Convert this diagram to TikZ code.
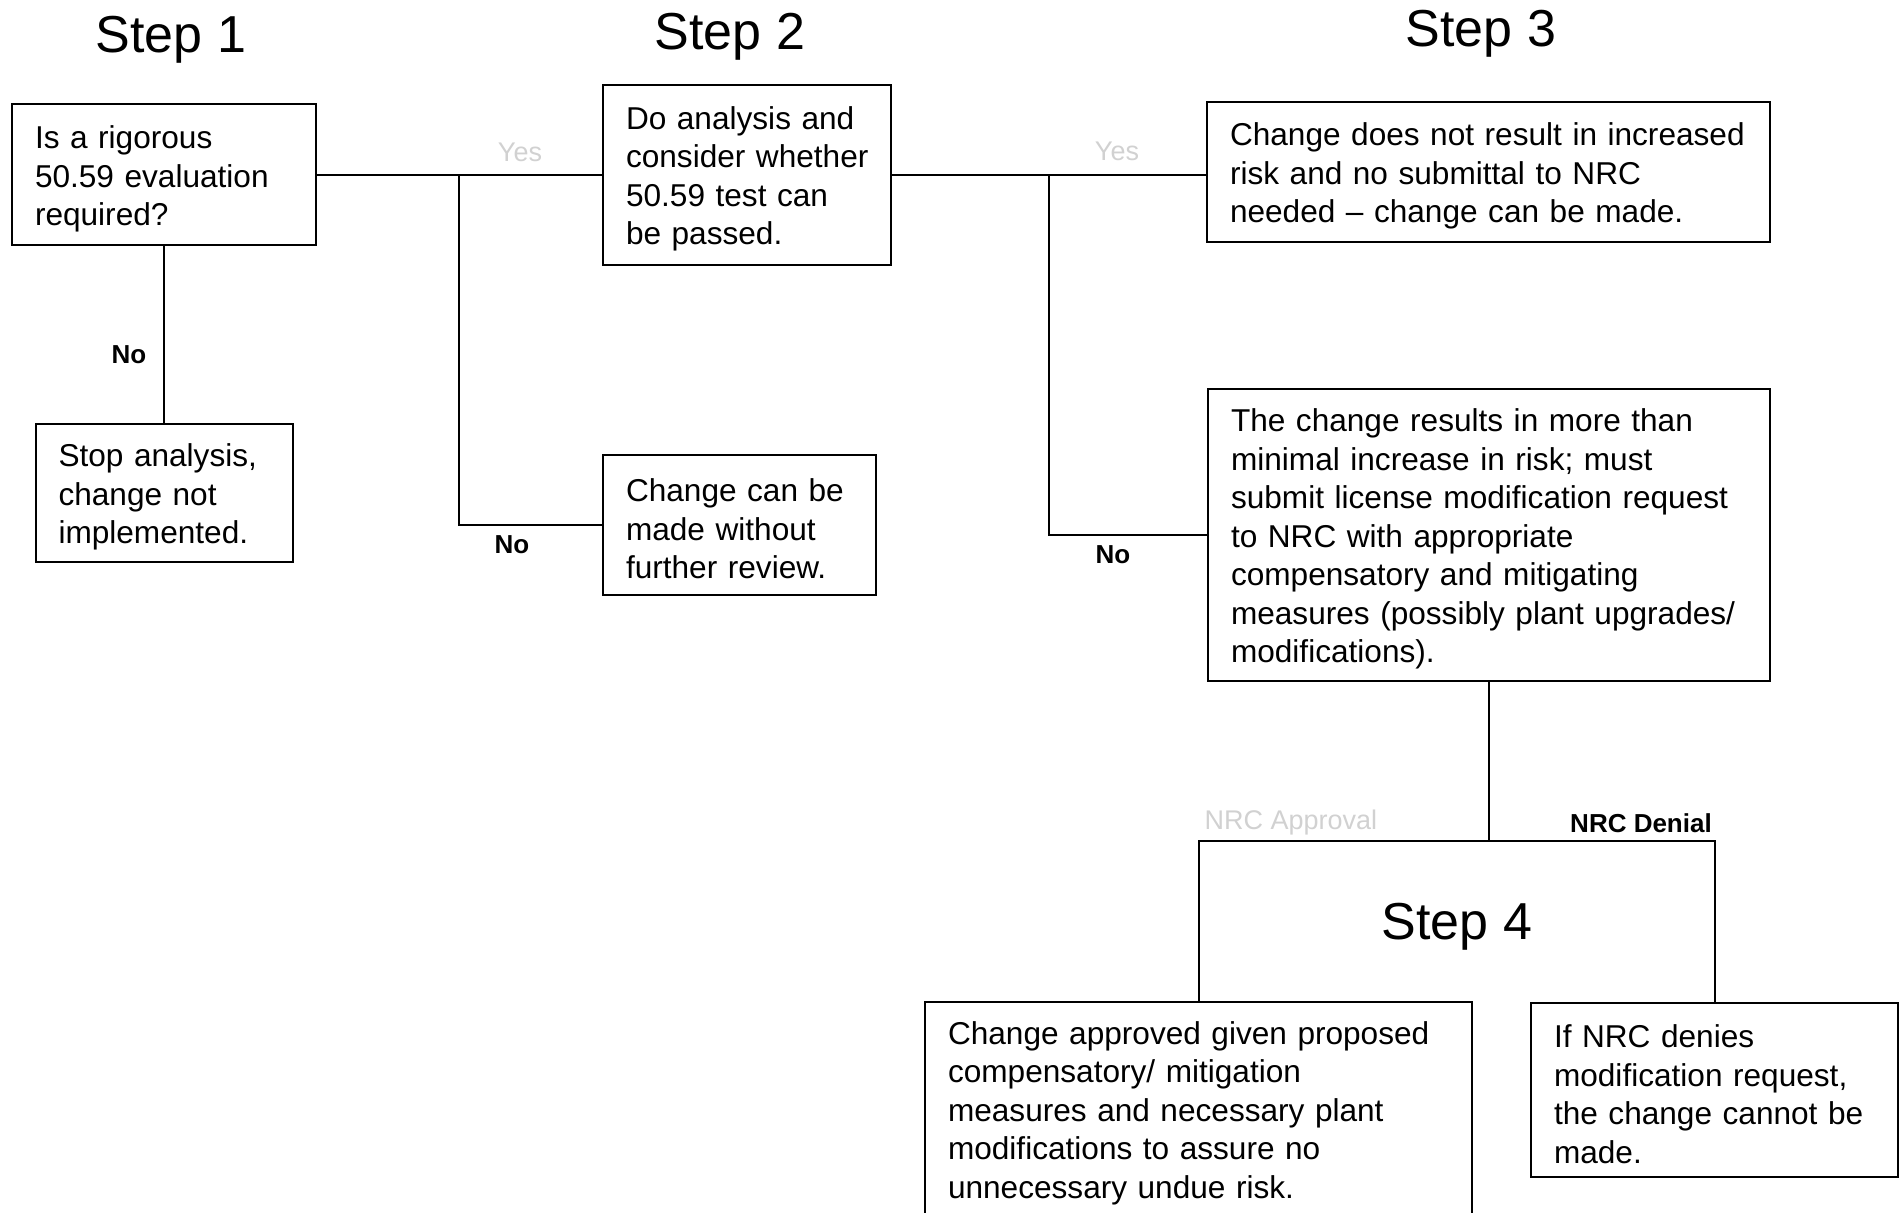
\documentclass[tikz,border=0pt]{standalone}
\usepackage{fontspec}
\setmainfont{Liberation Sans}
\begin{document}
\hyphenpenalty=10000
\exhyphenpenalty=10000
\begin{tikzpicture}[x=0.5pt,y=-0.5pt,
  box/.style={draw, line width=1pt, align=left, inner xsep=11.5pt, inner ysep=0pt, font=\fontsize{15.8}{19.25}\selectfont, execute at begin node={\rule{0pt}{15.5pt}}},
  conn/.style={line width=1pt},
  steplabel/.style={font=\fontsize{26}{30}\selectfont},
  nolabel/.style={font=\fontsize{13}{15}\selectfont\bfseries},
  faint/.style={font=\fontsize{13.5}{15}\selectfont, text=black!18}]
\useasboundingbox (0,0) rectangle (1904,1213);
% titles
\node[steplabel] (s1) at (171,40) {Step 1};
\node[steplabel] (s2) at (730,37) {Step 2};
\node[steplabel] (s3) at (1481,34) {Step 3};
\node[steplabel] (s4) at (1457,927) {Step 4};
% boxes
\node[box, text width=129pt, minimum height=70.5pt] (b1) at (164,175) {Is~a~rigorous\\50.59~evaluation\\required?};
\node[box, text width=105.5pt, minimum height=69pt] (stop) at (164,493) {Stop~analysis,\\change~not\\implemented.};
\node[box, text width=121pt, minimum height=90pt] (b2) at (747,175) {Do~analysis~and\\consider~whether\\50.59~test~can\\be~passed.};
\node[box, text width=113.5pt, minimum height=69.5pt] (b2n) at (739.5,525) {Change~can~be\\made~without\\further~review.};
\node[box, text width=258.5pt, minimum height=70pt] (b3) at (1488.5,172) {Change~does~not~result~in~increased\\risk~and~no~submittal~to~NRC\\needed~--~change~can~be~made.};
\node[box, text width=258pt, minimum height=146pt] (big) at (1489,535) {The~change~results~in~more~than\\minimal~increase~in~risk;~must\\submit~license~modification~request\\to~NRC~with~appropriate\\compensatory~and~mitigating\\measures~(possibly~plant~upgrades/\\modifications).};
\node[box, text width=250.5pt, minimum height=107pt] (appr) at (1198.5,1109) {Change~approved~given~proposed\\compensatory/~mitigation\\measures~and~necessary~plant\\modifications~to~assure~no\\unnecessary~undue~risk.};
\node[box, text width=160.5pt, minimum height=87pt] (den) at (1714.5,1090) {If~NRC~denies\\modification~request,\\the~change~cannot~be\\made.};
% connectors
\coordinate (j1) at (459,175);
\coordinate (j2) at (1049,175);
\coordinate (j3) at (1489,841);
\draw[conn] (b1.east) -- (b2.west);
\draw[conn] (j1) |- (b2n.west);
\draw[conn] (b2.east) -- (b2.east -| b3.west);
\draw[conn] (j2) |- (big.west);
\draw[conn] (b1.south) -- (stop.north);
\draw[conn] (big.south) -- (j3);
\draw[conn] (appr.north) |- (j3) -| (den.north);
% labels
\node[faint] (yes1) at (520,152) {Yes};
\node[faint] (yes2) at (1117,151) {Yes};
\node[nolabel] (no1) at (129,355) {No};
\node[nolabel] (no2) at (512,545) {No};
\node[nolabel] (no3) at (1113,555) {No};
\node[faint] (appl) at (1291,823) {NRC Approval};
\node[nolabel] (denl) at (1641,823) {NRC Denial};
\end{tikzpicture}
\end{document}
